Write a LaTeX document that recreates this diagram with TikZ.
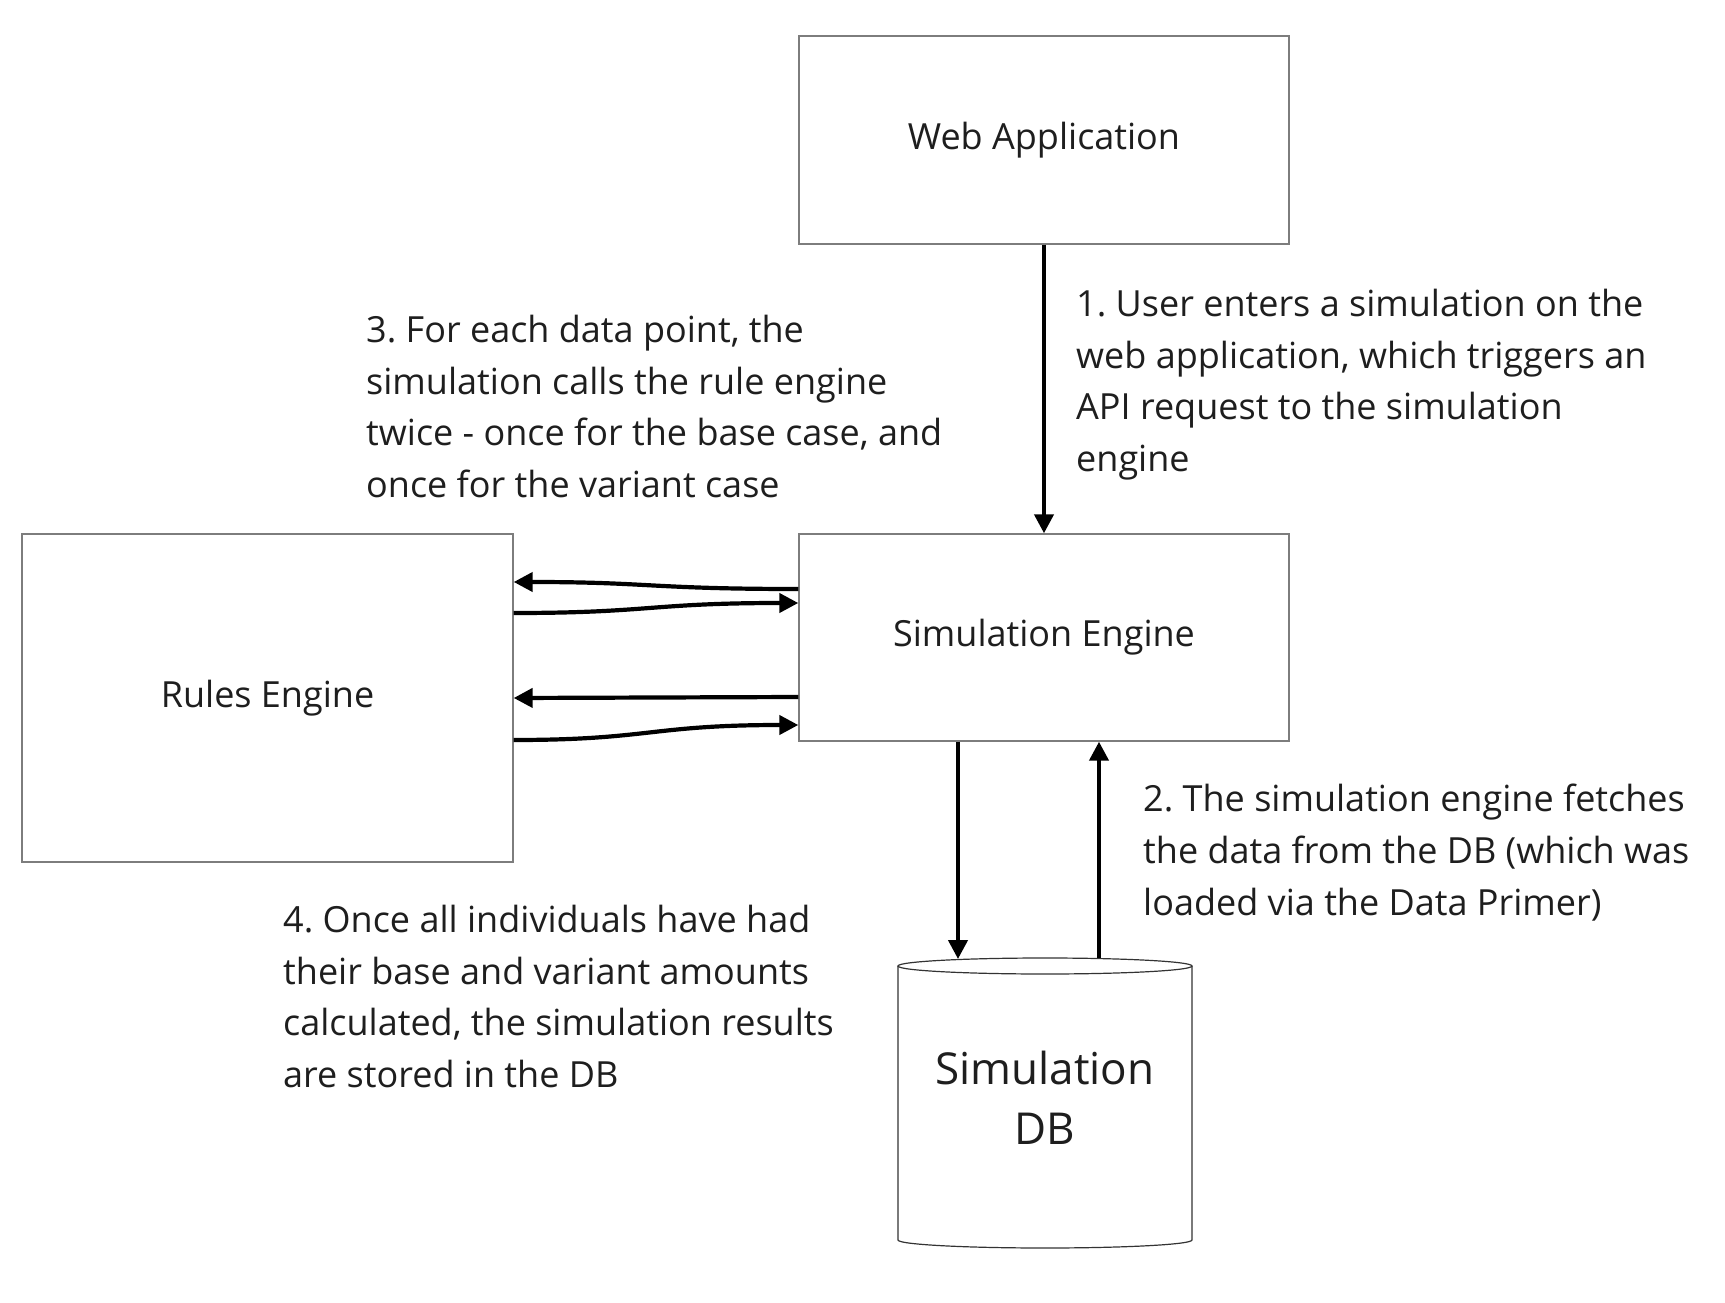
\documentclass[tikz,border=0pt]{standalone}
\usepackage{fontspec}
\setmainfont{Open Sans}
\usetikzlibrary{arrows.meta,calc}
\definecolor{boxgray}{RGB}{125,125,125}
\definecolor{txt}{RGB}{30,30,30}
\frenchspacing
\begin{document}
\begin{tikzpicture}[x=1pt,y=-1pt,
  box/.style={draw=boxgray, line width=1.4pt, inner sep=0pt, text=txt,
    font=\fontsize{36}{43}\selectfont},
  note/.style={anchor=north west, align=left, inner sep=0pt, text=txt,
    font=\fontsize{36}{51.7}\selectfont},
  dbtext/.style={align=center, inner sep=0pt, text=txt,
    font=\fontsize{44}{60}\selectfont},
  arr/.style={line width=4.2pt, -{Triangle[length=19pt,width=19pt]}},
  dbline/.style={draw=black!80, line width=1.2pt}]
\fill[white] (0,0) rectangle (1725,1303);
\useasboundingbox (0,0) rectangle (1725,1303);

\node[box, minimum width=490pt, minimum height=208pt] (web) at (1044,140) {Web Application};
\node[box, minimum width=490pt, minimum height=207pt] (se) at (1044,637.5) {Simulation Engine};
\node[box, minimum width=491pt, minimum height=328pt] (re) at (267.5,698) {Rules Engine};

% database cylinder
\draw[dbline] (898,966) -- (898,1240) arc[start angle=180,end angle=360,x radius=147pt,y radius=8pt] -- (1192,966);
\draw[dbline] (1045,966) ellipse [x radius=147pt, y radius=8pt];
\node[dbtext] (db) at (1045,1098) {Simulation\\DB};
\coordinate (dbin) at (958,959);
\coordinate (dbout) at (1099,958);

% notes
\node[note] (n1) at (1076,289) {1. User enters a simulation on the\\web application, which triggers an\\API request to the simulation\\engine};
\node[note] (n3) at (366,315) {3. For each data point, the\\simulation calls the rule engine\\twice - once for the base case, and\\once for the variant case};
\node[note] (n2) at (1143,784) {2. The simulation engine fetches\\the data from the DB (which was\\loaded via the Data Primer)};
\node[note] (n4) at (283,905) {4. Once all individuals have had\\their base and variant amounts\\calculated, the simulation results\\are stored in the DB};

% connectors
\draw[arr] (web.south) -- (se.north);
\draw[arr] ([yshift=48.5pt]se.west) .. controls (650,589) and (650,582) .. ([yshift=116pt]re.east);
\draw[arr] ([yshift=85pt]re.east) .. controls (650,613) and (650,603) .. ([yshift=34.5pt]se.west);
\draw[arr] ([yshift=-59.5pt]se.west) -- ([yshift=0pt]re.east);
\draw[arr] ([yshift=-42pt]re.east) .. controls (650,740) and (650,725) .. ([yshift=-87.5pt]se.west);
\draw[arr] ([xshift=-86pt]se.south) -- (dbin);
\draw[arr] (dbout) -- ([xshift=55pt]se.south);
\end{tikzpicture}
\end{document}
